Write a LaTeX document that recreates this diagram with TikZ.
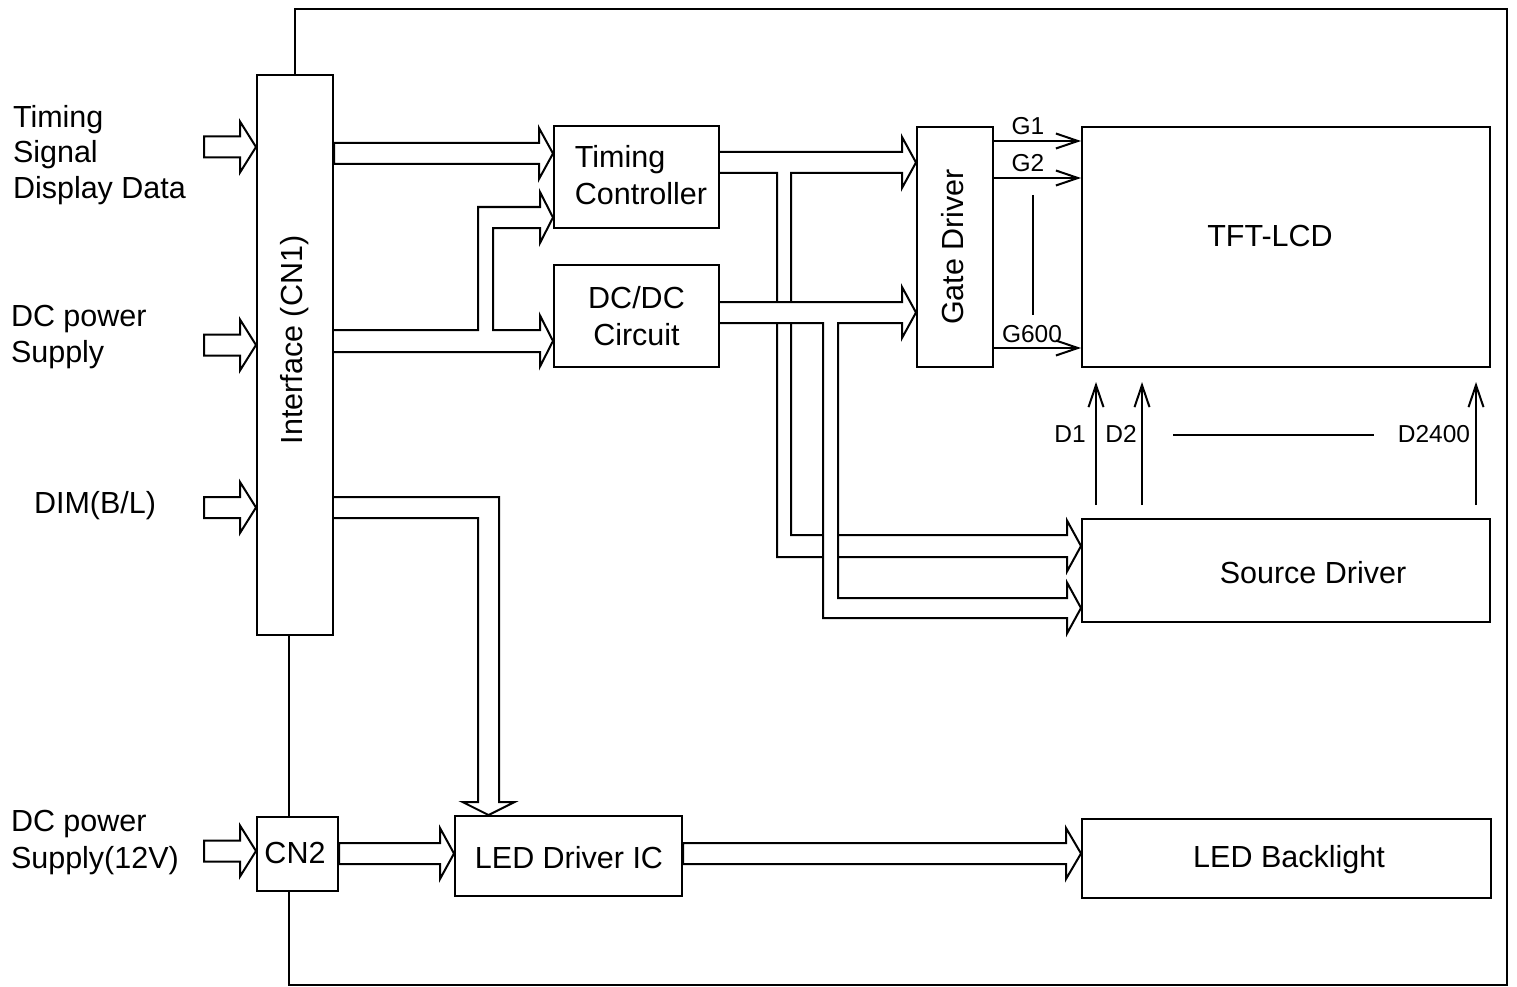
\documentclass[tikz,border=0pt]{standalone}
\usepackage{fontspec}
\setmainfont{Liberation Sans}
\usetikzlibrary{arrows.meta,calc}
\newcommand\hollowarrow[3]{%
  \draw[hollow] ($#1+(0,-10.5)$) -- ($#2+(-#3,-10.5)$) -- ($#2+(-#3,-25.5)$) -- #2 -- ($#2+(-#3,25.5)$) -- ($#2+(-#3,10.5)$) -- ($#1+(0,10.5)$) -- cycle;}
\begin{document}
\begin{tikzpicture}[x=1pt,y=-1pt, line width=2pt, line join=miter,
  box/.style={draw, rectangle, inner sep=0pt, font=\fontsize{30.5}{37}\selectfont},
  txt/.style={inner sep=0pt, font=\fontsize{30.5}{37}\selectfont},
  small/.style={inner sep=0pt, font=\fontsize{24.5}{28}\selectfont},
  hollow/.style={draw, fill=white, line join=miter},
  thinarrow/.style={-{Straight Barb[length=22pt,width=15pt]}}]
\useasboundingbox (0,0) rectangle (1517,987);

% box positions
\path (295,355) node[box, draw=none, minimum width=76pt, minimum height=560pt] (iface) {};
\path (297.5,854) node[box, draw=none, minimum width=81pt, minimum height=74pt] (cn2) {};
\path (636.5,177) node[box, draw=none, minimum width=165pt, minimum height=102pt] (tc) {};
\path (636.5,316) node[box, draw=none, minimum width=165pt, minimum height=102pt] (dcdc) {};
\path (955,247) node[box, draw=none, minimum width=76pt, minimum height=240pt] (gd) {};
\path (1286,247) node[box, draw=none, minimum width=408pt, minimum height=240pt] (tft) {};
\path (1286,570.5) node[box, draw=none, minimum width=408pt, minimum height=103pt] (sd) {};
\path (568.5,856) node[box, draw=none, minimum width=227pt, minimum height=80pt] (led) {};
\path (1286.5,858.5) node[box, draw=none, minimum width=409pt, minimum height=79pt] (bl) {};

% outer frame
\draw (iface.north) -- (iface.north |- 0,9) -- (1507,9) -- (1507,985) -- (289,985) -- (289,0 |- cn2.south);
\draw (289,0 |- cn2.north) -- (289,0 |- iface.south);

% input arrows
\hollowarrow{(204,147)}{(iface.west |- 0,147)}{16}
\hollowarrow{(204,345)}{(iface.west |- 0,345)}{16}
\hollowarrow{(204,507.5)}{(iface.west |- 0,507.5)}{16}
\hollowarrow{(204,851)}{(iface.west |- 0,851)}{16}

% interface -> timing controller
\hollowarrow{(iface.east |- 0,153.5)}{(tc.west |- 0,153.5)}{14}
% interface -> DC/DC and timing controller
\draw[hollow] (iface.east |- 0,330) -- (478,330) -- (478,207) -- (540,207) -- (540,192) -- (tc.west |- 0,217.5) -- (540,243) -- (540,228) -- (493,228) -- (493,330) -- (540,330) -- (540,315.5) -- (dcdc.west |- 0,341) -- (540,366.5) -- (540,352) -- (iface.east |- 0,352);
% timing controller -> gate driver and source driver
\draw[hollow] (tc.east |- 0,152) -- (902,152) -- (902,137) -- (gd.west |- 0,162.5) -- (902,188) -- (902,173) -- (791,173) -- (791,535) -- (1067,535) -- (1067,520.5) -- (sd.west |- 0,546) -- (1067,571.5) -- (1067,557) -- (777,557) -- (777,173) -- (tc.east |- 0,173);
% DC/DC -> gate driver and source driver
\draw[hollow] (dcdc.east |- 0,302) -- (902,302) -- (902,287) -- (gd.west |- 0,312.5) -- (902,338) -- (902,323) -- (838,323) -- (838,598) -- (1067,598) -- (1067,582.5) -- (sd.west |- 0,608) -- (1067,633.5) -- (1067,618) -- (823,618) -- (823,323) -- (dcdc.east |- 0,323);
% DIM -> LED driver
\draw[hollow] (iface.east |- 0,497) -- (499,497) -- (499,802) -- (514.5,802) -- (led.north -| 488.5,0) -- (462.5,802) -- (478,802) -- (478,518) -- (iface.east |- 0,518);
% CN2 -> LED driver -> backlight
\hollowarrow{(cn2.east |- 0,853.5)}{(led.west |- 0,853.5)}{14}
\hollowarrow{(led.east |- 0,853.5)}{(bl.west |- 0,853.5)}{15}

% boxes drawn
\node[box, minimum width=76pt, minimum height=560pt] (ifaceb) at (iface) {};
\node[box, minimum width=81pt, minimum height=74pt] (cn2b) at (cn2) {};
\node[txt] (cn2lbl) at (295,853) {CN2};
\node[box, minimum width=165pt, minimum height=102pt] (tcb) at (tc) {};
\node[txt, align=left] (tclbl) at (641,175) {Timing\\Controller};
\node[box, minimum width=165pt, minimum height=102pt, align=center] (dcdcb) at (dcdc) {DC/DC\\Circuit};
\node[box, minimum width=76pt, minimum height=240pt] (gdb) at (gd) {};
\node[box, minimum width=408pt, minimum height=240pt] (tftb) at (tft) {};
\node[box, minimum width=408pt, minimum height=103pt] (sdb) at (sd) {};
\node[box, minimum width=227pt, minimum height=80pt] (ledb) at (led) {};
\node[txt] (ledlbl) at (569,858) {LED Driver IC};
\node[box, minimum width=409pt, minimum height=79pt] (blb) at (bl) {};
\node[txt] (bllbl) at (1289,860) {LED Backlight};

% box labels
\node[txt, rotate=90] (ifacelbl) at (295,340) {Interface (CN1)};
\node[txt, rotate=90] (gdlbl) at (953,247) {Gate Driver};
\node[txt] (tftlbl) at (1270,236) {TFT-LCD};
\node[txt] (sdlbl) at (1313,573) {Source Driver};

% gate lines
\draw[thinarrow] (gd.east |- 0,141) -- (tft.west |- 0,141);
\draw[thinarrow] (gd.east |- 0,178) -- (tft.west |- 0,178);
\draw[thinarrow] (gd.east |- 0,348) -- (tft.west |- 0,348);
\draw (1033,195) -- (1033,315);
\node[small, anchor=base] (g1) at (1028,135) {G1};
\node[small, anchor=base] (g2) at (1028,172) {G2};
\node[small, anchor=base] (g600) at (1032,342) {G600};

% data lines
\draw[thinarrow] (1096,505) -- (1096,382);
\draw[thinarrow] (1142,505) -- (1142,382);
\draw[thinarrow] (1476,505) -- (1476,382);
\draw (1173,435) -- (1374,435);
\node[small, anchor=base] (d1) at (1070,442) {D1};
\node[small, anchor=base] (d2) at (1121,442) {D2};
\node[small, anchor=base] (d2400) at (1434,442) {D2400};

% left texts
\node[txt, anchor=base west] (t1) at (12,128) {Timing};
\node[txt, anchor=base west] (t2) at (12,163) {Signal};
\node[txt, anchor=base west] (t3) at (12,198) {Display Data};
\node[txt, anchor=base west] (p1) at (10,326) {DC power};
\node[txt, anchor=base west] (p2) at (10,362) {Supply};
\node[txt, anchor=base west] (dim) at (33,513) {DIM(B/L)};
\node[txt, anchor=base west] (q1) at (10,831) {DC power};
\node[txt, anchor=base west] (q2) at (10,868) {Supply(12V)};
\end{tikzpicture}
\end{document}
